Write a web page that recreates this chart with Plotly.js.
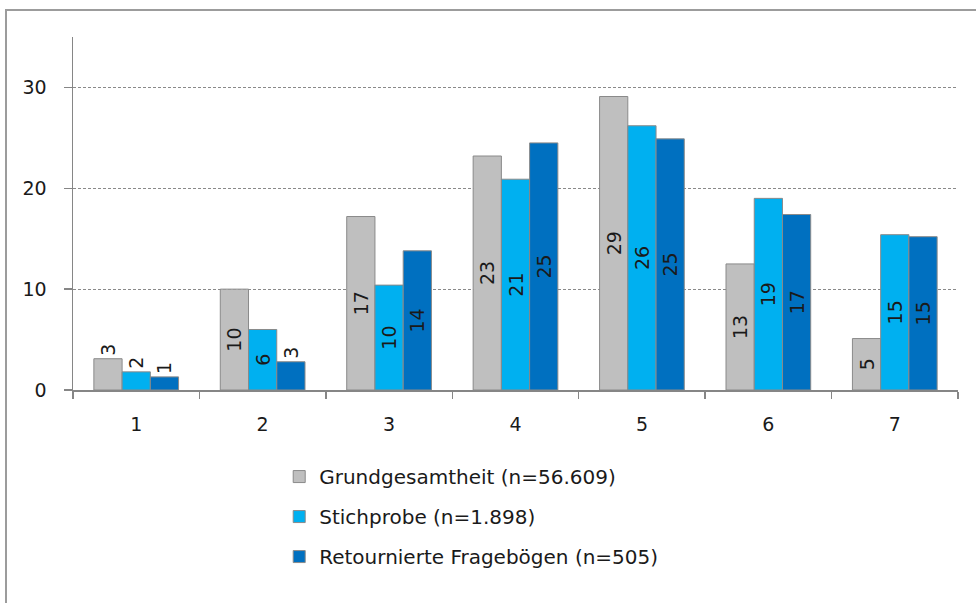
<!DOCTYPE html>
<html>
<head>
<meta charset="utf-8">
<script src="https://cdn.plot.ly/plotly-3.0.1.min.js"></script>
<style>
  html, body { margin: 0; padding: 0; background: #fff; }
  #wrap { position: relative; width: 976px; height: 603px; overflow: hidden; }
  #frame { position: absolute; left: 5px; top: 9px; width: 1000px; height: 700px;
           border-left: 2px solid #9c9c9c; border-top: 2px solid #9c9c9c; pointer-events: none; }
  #chart { position: absolute; left: 0; top: 0; width: 976px; height: 603px; }
</style>
</head>
<body>
<div id="wrap">
  <div id="chart"></div>
  <div id="frame"></div>
</div>
<script>
const categories = ["1", "2", "3", "4", "5", "6", "7"];
const seriesNames = ["Grundgesamtheit (n=56.609)", "Stichprobe (n=1.898)", "Retournierte Fragebögen (n=505)"];
const grundgesamtheit = [3.1, 10.0, 17.2, 23.2, 29.1, 12.5, 5.1];
const stichprobe = [1.8, 6.0, 10.4, 20.9, 26.2, 19.0, 15.4];
const retourniert = [1.3, 2.8, 13.8, 24.5, 24.9, 17.4, 15.2];
const yTicks = [0, 10, 20, 30];

const colors = ["#BFBFBF", "#00B0F0", "#0070C0"];
const values = [grundgesamtheit, stichprobe, retourniert];
const labelFont = {family: "DejaVu Sans", size: 19, color: "#1a1a1a"};

const traces = values.map((v, i) => ({
  type: "bar",
  name: seriesNames[i],
  x: categories,
  y: v,
  text: v.map(d => String(Math.round(d))),
  textposition: v.map(d => d < 4 ? "outside" : "inside"),
  insidetextanchor: "middle",
  textangle: -90,
  constraintext: "none",
  cliponaxis: false,
  textfont: labelFont,
  insidetextfont: labelFont,
  outsidetextfont: labelFont,
  marker: {color: colors[i], line: {color: "#8a8a8a", width: 1}},
  legendgroup: "g" + i,
  hoverinfo: "skip"
}));

const layout = {
  width: 976,
  height: 603,
  margin: {l: 73, r: 18, t: 37, b: 213},
  paper_bgcolor: "#ffffff",
  plot_bgcolor: "#ffffff",
  barmode: "group",
  bargap: 0.33,
  bargroupgap: 0,
  showlegend: true,
  legend: {
    x: 0.233, xanchor: "left",
    y: -0.19, yanchor: "top",
    traceorder: "grouped",
    tracegroupgap: 11,
    itemwidth: 30,
    font: {family: "DejaVu Sans", size: 20, color: "#1a1a1a"}
  },
  xaxis: {
    type: "category",
    range: [-0.5, 6.5],
    showline: true,
    linecolor: "#868686",
    linewidth: 1.5,
    ticks: "outside",
    tickson: "boundaries",
    ticklen: 7,
    tickcolor: "#868686",
    tickwidth: 1.5,
    showgrid: false,
    zeroline: false,
    ticklabelstandoff: 17,
    tickfont: {family: "DejaVu Sans", size: 19, color: "#1a1a1a"}
  },
  yaxis: {
    range: [0, 35],
    tickvals: yTicks,
    ticktext: yTicks.map(String),
    showline: true,
    linecolor: "#868686",
    linewidth: 1.5,
    ticks: "outside",
    ticklen: 8,
    tickcolor: "#868686",
    tickwidth: 1.5,
    showgrid: true,
    gridcolor: "#8a8a8a",
    gridwidth: 1,
    griddash: "3px,2px",
    zeroline: false,
    ticklabelstandoff: 13,
    tickfont: {family: "DejaVu Sans", size: 19, color: "#1a1a1a"}
  },
  font: {family: "DejaVu Sans", color: "#1a1a1a"}
};

Plotly.newPlot("chart", traces, layout, {staticPlot: true, displayModeBar: false});
</script>
</body>
</html>
